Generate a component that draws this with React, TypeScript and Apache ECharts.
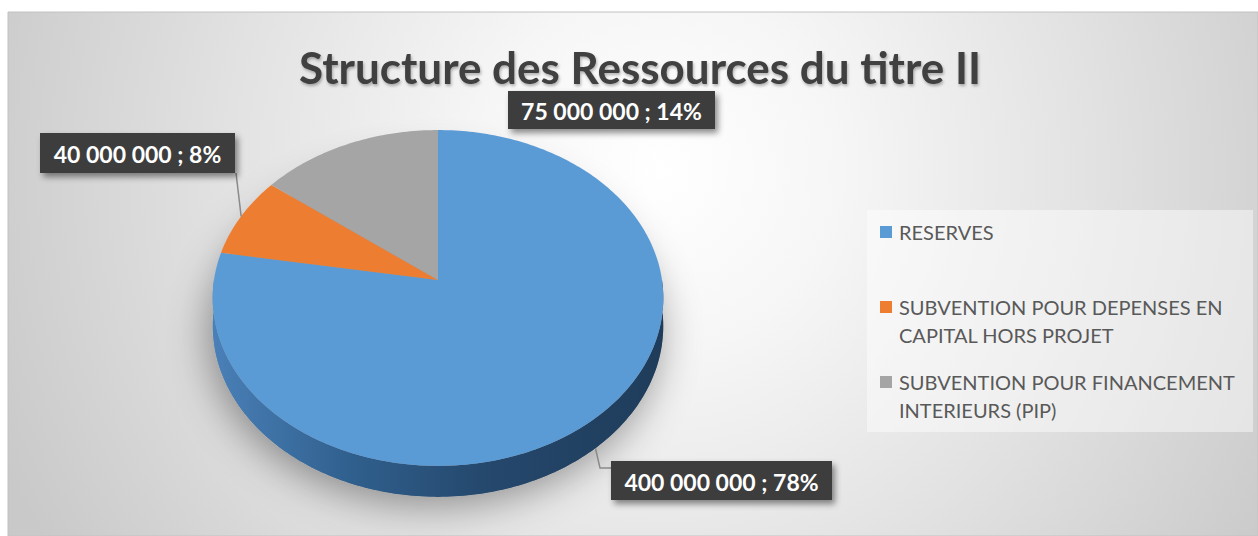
import React, { useEffect, useRef } from "react";
import * as echarts from "echarts";

// ---------- data ----------
const TITLE = "Structure des Ressources du titre II";
const categories = [
  "RESERVES",
  "SUBVENTION POUR DEPENSES EN CAPITAL HORS PROJET",
  "SUBVENTION POUR FINANCEMENT INTERIEURS (PIP)",
];
const legendLines = [
  ["RESERVES"],
  ["SUBVENTION POUR DEPENSES EN", "CAPITAL HORS PROJET"],
  ["SUBVENTION POUR FINANCEMENT", "INTERIEURS (PIP)"],
];
const values = [400000000, 40000000, 75000000];
const percentLabels = ["78%", "8%", "14%"];

// ---------- style / layout ----------
const colors = ["#5b9bd5", "#ed7d31", "#a5a5a5"];
const sideColors = [
  ["#4a80b8", "#30608e", "#25486d", "#1f3c5a"],
  ["#c96421", "#a8521a", "#8f4615", "#7a3c12"],
  ["#8c8c8c", "#777777", "#666666", "#5a5a5a"],
];
const CX = 438;
const CY = 280;
const RX = 224;
const RY = 166;
const K = 0.107;
const DEPTH = 31;
const labelBoxes = [
  { x: 611, y: 461, w: 221, h: 39, elbow: [[600, 468], [611, 468]] },
  { x: 40, y: 133, w: 195, h: 40, elbow: [[236, 173]] },
  { x: 508, y: 91, w: 207, h: 38, elbow: null },
];

const fmt = (v: number) => String(v).replace(/\B(?=(\d{3})+(?!\d))/g, " ");

function proj(r: number, phi: number, down = 0): number[] {
  const u = r * Math.sin(phi);
  const w = r * Math.cos(phi);
  const s = 1 / (1 + K * w);
  return [CX + RX * u * s, CY - RY * w * s + down * s * (1 - K)];
}

function arc(a0: number, a1: number, down = 0): number[][] {
  const pts: number[][] = [];
  const n = Math.max(2, Math.ceil(((a1 - a0) * 180) / Math.PI));
  for (let i = 0; i <= n; i++) pts.push(proj(1, a0 + ((a1 - a0) * i) / n, down));
  return pts;
}

export default function App() {
  const ref = useRef<HTMLDivElement>(null);
  useEffect(() => {
    if (!ref.current) return;
    const chart = echarts.init(ref.current, undefined, { renderer: "svg" });
    const total = values.reduce((a, b) => a + b, 0);

    const renderItem = (params: any, api: any) => {
      const i = params.dataIndex;
      let cum = 0;
      for (let j = 0; j < i; j++) cum += values[j];
      const v = api.value(0);
      const a0 = (cum / total) * Math.PI * 2;
      const a1 = ((cum + v) / total) * Math.PI * 2;
      const children: any[] = [];

      if (i === 0) {
        children.push({
          type: "polygon",
          shape: { points: arc(0, Math.PI * 2, DEPTH) },
          style: {
            fill: "#9a9a9a",
            shadowBlur: 40,
            shadowColor: "rgba(0,0,0,0.4)",
            shadowOffsetX: -4,
            shadowOffsetY: 8,
          },
        });
      }

      // side (front half only)
      const b0 = Math.max(a0, Math.PI / 2);
      const b1 = Math.min(a1, (Math.PI * 3) / 2);
      if (b1 > b0) {
        const top = arc(b0, b1, 0);
        const bot = arc(b0, b1, DEPTH).reverse();
        const sc = sideColors[i];
        children.push({
          type: "polygon",
          shape: { points: top.concat(bot) },
          style: {
            fill: new echarts.graphic.LinearGradient(1, 0, 0, 0, [
              { offset: 0, color: sc[3] },
              { offset: 0.4, color: sc[2] },
              { offset: 0.7, color: sc[1] },
              { offset: 1, color: sc[0] },
            ]),
          },
        });
      }

      // top face
      children.push({
        type: "polygon",
        shape: { points: [proj(0, 0)].concat(arc(a0, a1, 0)) },
        style: { fill: colors[i] },
      });

      // label
      const lb = labelBoxes[i];
      const mid = (a0 + a1) / 2;
      const front = mid > Math.PI / 2 && mid < (Math.PI * 3) / 2;
      if (lb.elbow) {
        const start = proj(1, mid, front ? DEPTH : 0);
        children.push({
          type: "polyline",
          shape: { points: [start].concat(lb.elbow as number[][]) },
          style: { stroke: "#8a8a8a", lineWidth: 1.5, fill: null },
        });
      }
      children.push({
        type: "rect",
        shape: { x: lb.x, y: lb.y, width: lb.w, height: lb.h },
        style: {
          fill: "#3d3d3d",
          shadowBlur: 6,
          shadowOffsetX: 3,
          shadowOffsetY: 4,
          shadowColor: "rgba(0,0,0,0.45)",
        },
      });
      children.push({
        type: "text",
        style: {
          text: fmt(v) + " ; " + percentLabels[i],
          x: lb.x + lb.w / 2,
          y: lb.y + lb.h / 2 + 1,
          align: "center",
          verticalAlign: "middle",
          fill: "#ffffff",
          fontFamily: "Lato",
          fontWeight: "bold",
          fontSize: 23,
        },
      });

      return { type: "group", children };
    };

    const legendGraphics: any[] = [
      {
        type: "rect",
        shape: { x: 867, y: 210, width: 386, height: 222 },
        style: { fill: "rgba(255,255,255,0.45)" },
        z: 5,
      },
    ];
    legendLines.forEach((lines, i) => {
      const cy = 232 + 75 * i;
      legendGraphics.push({
        type: "rect",
        shape: { x: 880, y: cy - 6, width: 12, height: 12 },
        style: { fill: colors[i] },
        z: 6,
      });
      legendGraphics.push({
        type: "text",
        style: {
          text: lines.join("\n"),
          x: 899,
          y: cy - 14,
          lineHeight: 28,
          verticalAlign: "top",
          align: "left",
          fill: "#595959",
          fontFamily: "Lato",
          fontSize: 20,
        },
        z: 6,
      });
    });

    chart.setOption({
      animation: false,
      backgroundColor: "#ffffff",
      graphic: [
        {
          type: "rect",
          shape: { x: 8, y: 12, width: 1250, height: 524 },
          style: {
            fill: new echarts.graphic.RadialGradient(
              660,
              170,
              720,
              [
                { offset: 0, color: "#ffffff" },
                { offset: 0.25, color: "#f6f6f6" },
                { offset: 0.6, color: "#e2e2e2" },
                { offset: 1, color: "#c9c9c9" },
              ],
              true
            ),
            stroke: "#c2c2c2",
            lineWidth: 1,
          },
          z: -10,
        },
        {
          type: "text",
          style: {
            text: TITLE,
            x: 640,
            y: 67,
            align: "center",
            verticalAlign: "middle",
            fill: "#404040",
            fontFamily: "Lato",
            fontWeight: "bold",
            fontSize: 44,
            textShadowBlur: 3,
            textShadowColor: "rgba(0,0,0,0.3)",
            textShadowOffsetX: 1,
            textShadowOffsetY: 2,
          },
          z: 10,
        },
        ...legendGraphics,
      ],
      series: [
        {
          type: "custom",
          coordinateSystem: "none",
          data: values.map((v, i) => ({ value: v, name: categories[i] })),
          renderItem,
          z: 3,
        },
      ],
    });
    return () => chart.dispose();
  }, []);
  return (
    <div
      ref={ref}
      style={{ position: "absolute", left: 0, top: 0, width: 1258, height: 536 }}
    />
  );
}
